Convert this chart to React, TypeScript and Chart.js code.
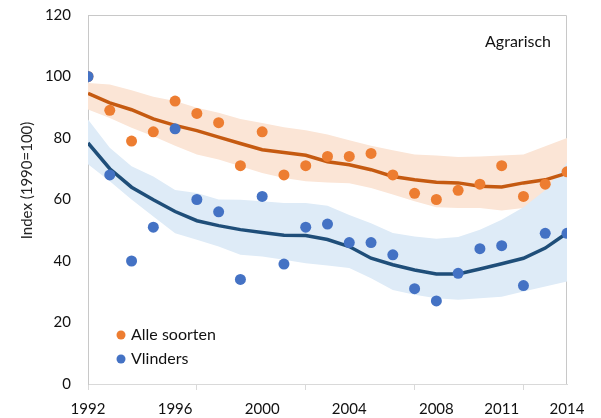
import { useEffect, useRef } from 'react';
import { Chart, registerables } from 'chart.js';

Chart.register(...registerables);

const years = [1992, 1993, 1994, 1995, 1996, 1997, 1998, 1999, 2000, 2001, 2002, 2003, 2004, 2005, 2006, 2007, 2008, 2009, 2010, 2011, 2012, 2013, 2014];

const alleSoorten = [100, 89, 79, 82, 92, 88, 85, 71, 82, 68, 71, 74, 74, 75, 68, 62, 60, 63, 65, 71, 61, 65, 69];
const alleTrend = [94.5, 91.4, 89.2, 86.2, 84.1, 82.4, 80.3, 78.2, 76.2, 75.3, 74.4, 72.3, 71.3, 69.7, 67.5, 66.4, 65.6, 65.4, 64.3, 64.1, 65.4, 66.4, 68.6];
const alleUpper = [97.9, 97.4, 95.5, 93.4, 92, 89.8, 88.2, 86.2, 84.9, 83.5, 82.5, 81.1, 79.3, 77.5, 76, 74.6, 74.3, 73.8, 74, 74.3, 74.6, 77.3, 80];
const alleLower = [89.3, 86.5, 83.3, 80.6, 77.5, 74.6, 73, 70.8, 68.6, 67, 65.9, 65.5, 65.3, 63.7, 61.6, 59.4, 57.5, 57.2, 57.2, 56.4, 57.2, 60, 62];

const vlinders = [100, 68, 40, 51, 83, 60, 56, 34, 61, 39, 51, 52, 46, 46, 42, 31, 27, 36, 44, 45, 32, 49, 49];
const vlindersTrend = [78.4, 70, 64, 59.9, 56.1, 53.1, 51.5, 50.2, 49.3, 48.4, 48.3, 47, 44.7, 40.9, 38.8, 37.1, 35.8, 35.8, 37.4, 39.1, 40.9, 44.2, 49.1];
const vlindersUpper = [86, 76.8, 70.8, 67.5, 63.1, 62.1, 60, 59.9, 59.4, 58.9, 58.9, 58, 55, 52.3, 49.1, 48, 47.2, 47.8, 50.2, 53.4, 57.5, 63, 72];
const vlindersLower = [71.5, 65.9, 60, 54.5, 49, 46.9, 44.7, 42, 41.5, 40.4, 39.3, 38.5, 37.7, 34.4, 30.6, 29, 27.9, 27.4, 27.9, 28.4, 30.1, 31.7, 33.3];

const xTickLabels = [1992, 1996, 2000, 2004, 2008, 2011, 2014];
const xTickMarks = [1992, 1997, 2002, 2007, 2012];
const yTicks = [0, 20, 40, 60, 80, 100, 120];

const seriesNames = ['Alle soorten', 'Vlinders'];
const panelTitle = 'Agrarisch';
const yTitle = 'Index (1990=100)';

const FONT = 'Lato, "Open Sans", sans-serif';
const ORANGE = '#ED7D31';
const BLUE = '#4472C4';

const pts = (arr: number[]) => years.map((x, i) => ({ x, y: arr[i] }));

const overlay = {
  id: 'overlay',
  beforeDatasetsDraw(chart: any) {
    const { ctx, chartArea: a } = chart;
    ctx.save();
    ctx.strokeStyle = '#c8c8c8';
    ctx.lineWidth = 1;
    const t = Math.round(a.top) + 0.5;
    const r = Math.round(a.right) - 0.5;
    const b = Math.round(a.bottom);
    ctx.beginPath();
    ctx.moveTo(a.left, t);
    ctx.lineTo(r, t);
    ctx.lineTo(r, b);
    ctx.stroke();
    ctx.restore();
  },
  afterDraw(chart: any) {
    const { ctx, chartArea: a } = chart;
    ctx.save();
    ctx.fillStyle = '#111';
    ctx.font = `16px ${FONT}`;
    ctx.textAlign = 'right';
    ctx.textBaseline = 'alphabetic';
    ctx.fillText(panelTitle, a.right - 16, a.top + 32);

    const colors = [ORANGE, BLUE];
    seriesNames.forEach((name, i) => {
      const cy = a.bottom - 49 + i * 24;
      ctx.fillStyle = colors[i];
      ctx.beginPath();
      ctx.arc(a.left + 33, cy, 4.5, 0, Math.PI * 2);
      ctx.fill();
      ctx.fillStyle = '#111';
      ctx.textAlign = 'left';
      ctx.textBaseline = 'middle';
      ctx.fillText(name, a.left + 43, cy);
    });

    ctx.translate(a.left - 61, (a.top + a.bottom) / 2 - 19);
    ctx.rotate(-Math.PI / 2);
    ctx.textAlign = 'center';
    ctx.textBaseline = 'middle';
    ctx.font = `15px ${FONT}`;
    ctx.fillStyle = '#222';
    ctx.fillText(yTitle, 0, 0);
    ctx.restore();
  },
};

export default function App() {
  const ref = useRef<HTMLCanvasElement>(null);
  useEffect(() => {
    document.body.style.margin = '0';
    const canvas = ref.current!;
    const band = { pointRadius: 0, borderWidth: 0, tension: 0 };
    const chart = new Chart(canvas, {
      type: 'line',
      data: {
        datasets: [
          { ...band, data: pts(alleLower), fill: false, order: 10 },
          { ...band, data: pts(alleUpper), fill: '-1', backgroundColor: '#FBE5D6', order: 9 },
          { ...band, data: pts(vlindersLower), fill: false, order: 8 },
          { ...band, data: pts(vlindersUpper), fill: '-1', backgroundColor: '#DEEBF7', order: 7 },
          { data: pts(alleTrend), borderColor: '#C55A11', borderWidth: 3.5, pointRadius: 0, fill: false, tension: 0, order: 4 },
          { data: pts(vlindersTrend), borderColor: '#1F4E79', borderWidth: 3.5, pointRadius: 0, fill: false, tension: 0, order: 3 },
          { label: seriesNames[0], data: pts(alleSoorten), showLine: false, pointRadius: 5.5, pointBorderWidth: 0, pointBackgroundColor: ORANGE, pointBorderColor: ORANGE, order: 2 },
          { label: seriesNames[1], data: pts(vlinders), showLine: false, pointRadius: 5.5, pointBorderWidth: 0, pointBackgroundColor: BLUE, pointBorderColor: BLUE, order: 1 },
        ],
      } as any,
      options: {
        animation: false,
        responsive: false,
        devicePixelRatio: 1,
        layout: { padding: { top: 15, right: 34, left: 0, bottom: 0 } },
        plugins: { legend: { display: false }, tooltip: { enabled: false } },
        scales: {
          x: {
            type: 'linear',
            min: years[0],
            max: years[years.length - 1],
            afterFit: (s: any) => { s.height = 34; s.paddingLeft = 0; s.paddingRight = 0; },
            afterBuildTicks: (s: any) => {
              const vals = Array.from(new Set([...xTickLabels, ...xTickMarks])).sort((p, q) => p - q);
              s.ticks = vals.map((v) => ({ value: v }));
            },
            border: { display: true, color: '#d9d9d9', width: 1 },
            grid: {
              drawOnChartArea: false,
              drawTicks: true,
              tickLength: 6,
              color: (c: any) => (xTickMarks.includes(c.tick?.value) ? '#d9d9d9' : 'rgba(0,0,0,0)'),
            },
            ticks: {
              autoSkip: false,
              maxRotation: 0,
              padding: 10,
              color: '#111',
              font: { family: FONT, size: 15 },
              callback: (v: any) => (xTickLabels.includes(Number(v)) ? String(v) : ''),
            },
          },
          y: {
            min: yTicks[0],
            max: yTicks[yTicks.length - 1],
            afterFit: (s: any) => { s.width = 88; s.paddingTop = 0; s.paddingBottom = 0; },
            afterBuildTicks: (s: any) => { s.ticks = yTicks.map((v) => ({ value: v })); },
            border: { display: true, color: '#c8c8c8', width: 1 },
            grid: { display: false, drawTicks: false },
            ticks: {
              padding: 17,
              color: '#111',
              font: { family: FONT, size: 15 },
            },
          },
        },
      } as any,
      plugins: [overlay],
    });
    return () => chart.destroy();
  }, []);
  return (
    <div style={{ width: 601, height: 418 }}>
      <canvas ref={ref} width={601} height={418} style={{ display: 'block' }} />
    </div>
  );
}
